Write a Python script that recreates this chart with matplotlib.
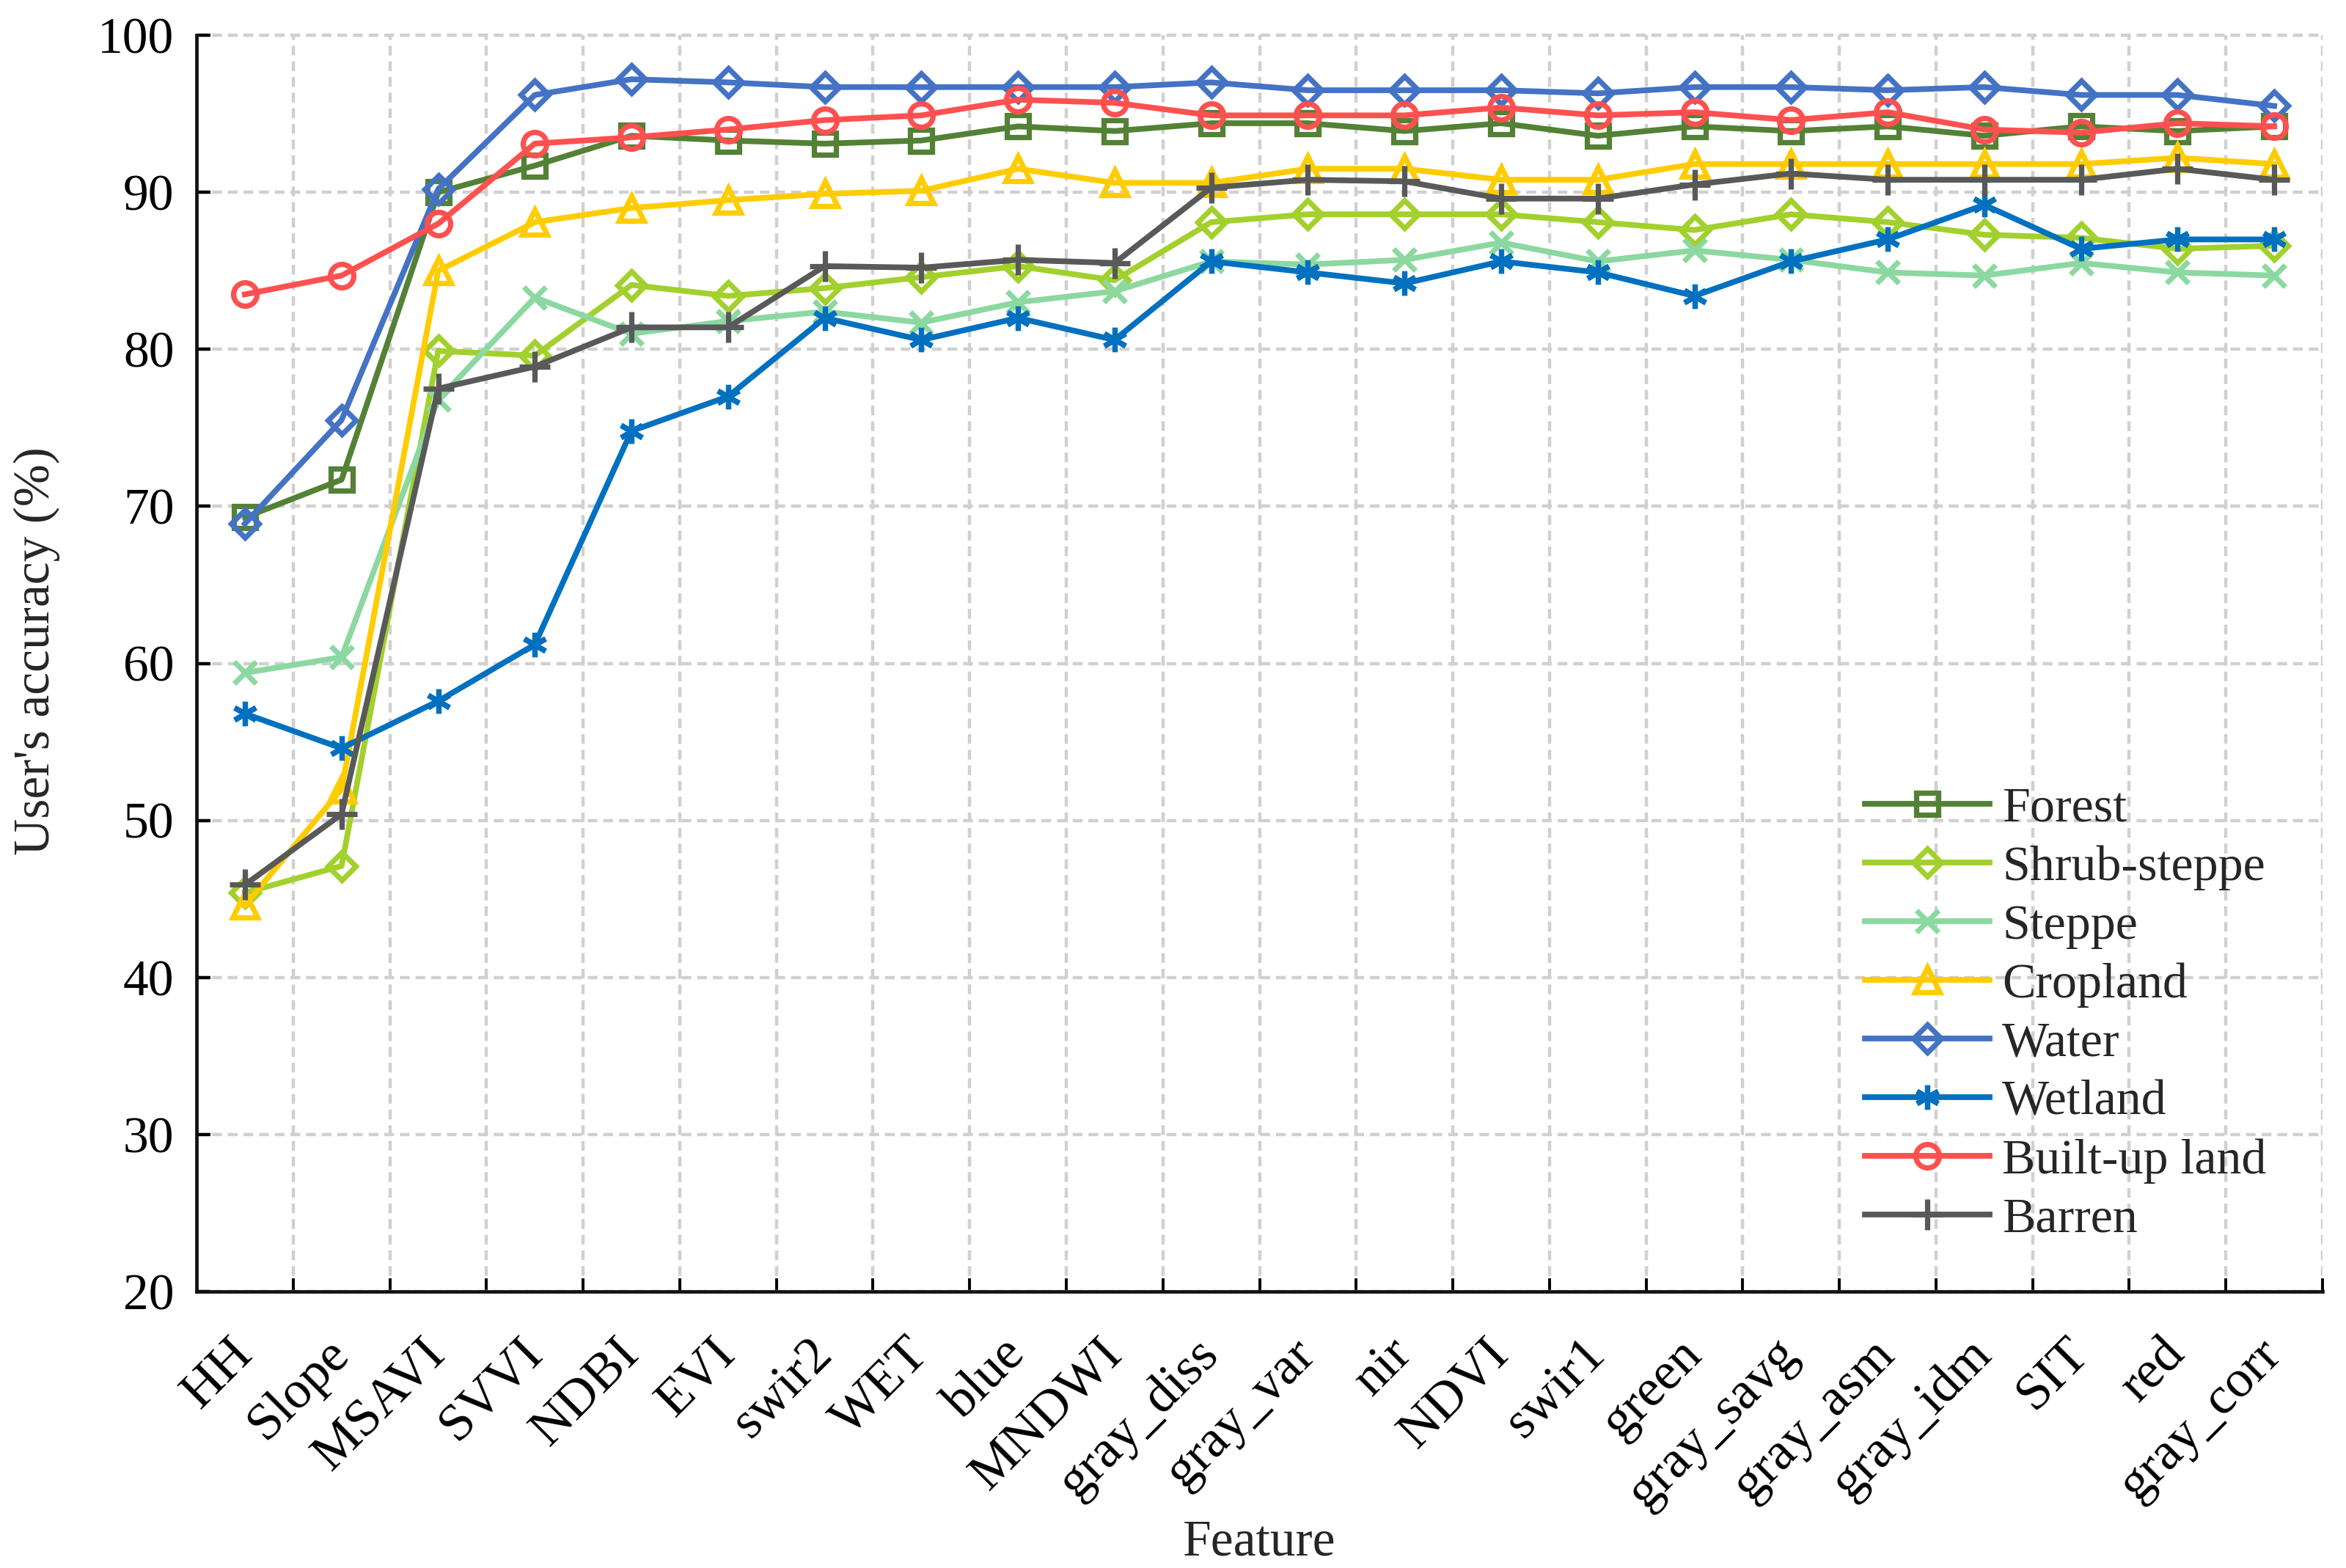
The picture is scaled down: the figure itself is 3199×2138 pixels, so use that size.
import matplotlib
matplotlib.use("Agg")
import matplotlib.pyplot as plt
from matplotlib.ticker import FixedLocator, MultipleLocator

plt.rcParams["font.family"] = ["Liberation Serif", "DejaVu Serif"]
SERIF = ["Liberation Serif", "DejaVu Serif"]

features = [
    "HH", "Slope", "MSAVI", "SVVI", "NDBI", "EVI", "swir2", "WET", "blue", "MNDWI",
    "gray_diss", "gray_var", "nir", "NDVI", "swir1", "green", "gray_savg", "gray_asm",
    "gray_idm", "SIT", "red", "gray_corr",
]

forest = [69.3, 71.7, 90.0, 91.7, 93.6, 93.3, 93.1, 93.3, 94.2, 93.9, 94.4,
          94.4, 93.9, 94.4, 93.6, 94.2, 93.9, 94.2, 93.6, 94.2, 93.9, 94.2]
shrub_steppe = [45.4, 47.1, 79.9, 79.6, 84.1, 83.4, 83.9, 84.6, 85.3, 84.4, 88.1,
                88.6, 88.6, 88.6, 88.1, 87.6, 88.6, 88.1, 87.3, 87.1, 86.4, 86.6]
steppe = [59.4, 60.4, 76.8, 83.3, 81.0, 81.8, 82.4, 81.7, 83.0, 83.7, 85.6,
          85.4, 85.7, 86.8, 85.6, 86.3, 85.7, 84.9, 84.7, 85.5, 84.9, 84.7]
cropland = [44.6, 52.0, 85.0, 88.1, 89.0, 89.5, 89.9, 90.1, 91.5, 90.6, 90.6,
            91.5, 91.5, 90.8, 90.8, 91.8, 91.8, 91.8, 91.8, 91.8, 92.2, 91.8]
water = [68.9, 75.5, 90.2, 96.2, 97.2, 97.0, 96.7, 96.7, 96.7, 96.7, 97.0,
         96.5, 96.5, 96.5, 96.3, 96.7, 96.7, 96.5, 96.7, 96.2, 96.2, 95.5]
wetland = [56.8, 54.6, 57.6, 61.2, 74.8, 77.0, 82.0, 80.6, 82.0, 80.6, 85.6,
           84.9, 84.2, 85.6, 84.9, 83.4, 85.6, 87.0, 89.2, 86.4, 87.0, 87.0]
built_up = [83.5, 84.7, 88.0, 93.1, 93.5, 94.0, 94.6, 94.9, 95.9, 95.7, 94.9,
            94.9, 94.9, 95.4, 94.9, 95.1, 94.6, 95.1, 94.0, 93.8, 94.4, 94.2]
barren = [45.9, 50.4, 77.5, 78.9, 81.4, 81.4, 85.3, 85.2, 85.7, 85.5, 90.3,
          90.8, 90.7, 89.6, 89.6, 90.5, 91.2, 90.8, 90.8, 90.8, 91.5, 90.8]

series = [
    ("Forest", forest, "#538135", "s", 11),
    ("Shrub-steppe", shrub_steppe, "#a2d02c", "D", 9.5),
    ("Steppe", steppe, "#8bd8a0", "x", 11),
    ("Cropland", cropland, "#ffcc00", "^", 12),
    ("Water", water, "#4472c4", "D", 9.5),
    ("Wetland", wetland, "#0070c0", (6, 2, 0), 12),
    ("Built-up land", built_up, "#ff5050", "o", 11.5),
    ("Barren", barren, "#595959", "+", 15),
]

fig = plt.figure(figsize=(15.995, 10.69), dpi=200)
ax = fig.add_axes([0.0838, 0.1763, 0.9062, 0.8012])

x = list(range(len(features)))
for name, vals, color, marker, ms in series:
    ax.plot(x, vals, color=color, linewidth=2.8, marker=marker, markersize=ms,
            markerfacecolor="none", markeredgecolor=color, markeredgewidth=2.6,
            label=name, zorder=3)

ax.set_xlim(-0.5, len(features) - 0.5)
ax.set_ylim(20, 100)
ax.yaxis.set_major_locator(MultipleLocator(10))
ax.xaxis.set_major_locator(FixedLocator(x))
ax.xaxis.set_minor_locator(FixedLocator([i + 0.5 for i in x]))
ax.set_xticklabels(features, rotation=45, ha="right", va="center",
                   rotation_mode="anchor", fontsize=26, family=SERIF)
for lab in ax.get_yticklabels():
    lab.set_family(SERIF)

ax.tick_params(axis="x", which="major", length=0, pad=27)
ax.tick_params(axis="x", which="minor", direction="in", length=6.5, width=1.4)
ax.tick_params(axis="y", which="major", direction="in", length=6.8, width=1.6,
               labelsize=25, pad=11)

grid_style = dict(color="#d0d0d0", linewidth=1.6, linestyle=(0, (3.0, 1.8)))
ax.grid(True, axis="y", which="major", **grid_style)
ax.grid(True, axis="x", which="minor", **grid_style)
ax.set_axisbelow(True)
for gl in ax.get_ygridlines():
    gl.set_clip_on(False)

for side in ("top", "right"):
    ax.spines[side].set_visible(False)
for side in ("left", "bottom"):
    ax.spines[side].set_linewidth(1.7)
    ax.spines[side].set_color("#111111")

ax.set_ylabel("User's accuracy (%)", fontsize=25, color="#262626", family=SERIF)
ax.yaxis.set_label_coords(-0.075, 0.51)
ax.set_xlabel("Feature", fontsize=25, color="#262626", family=SERIF)
ax.xaxis.set_label_coords(0.5, -0.2)
ax.xaxis.label.set_va("center")
ax.yaxis.label.set_va("center")

leg = ax.legend(loc="upper left", bbox_to_anchor=(0.773, 0.422), frameon=False,
                prop={"family": SERIF, "size": 24.5}, handlelength=2.5,
                handletextpad=0.25, labelspacing=0.27, borderpad=0, numpoints=1)
for t in leg.get_texts():
    t.set_color("#262626")

fig.savefig("out.png", dpi=200)
